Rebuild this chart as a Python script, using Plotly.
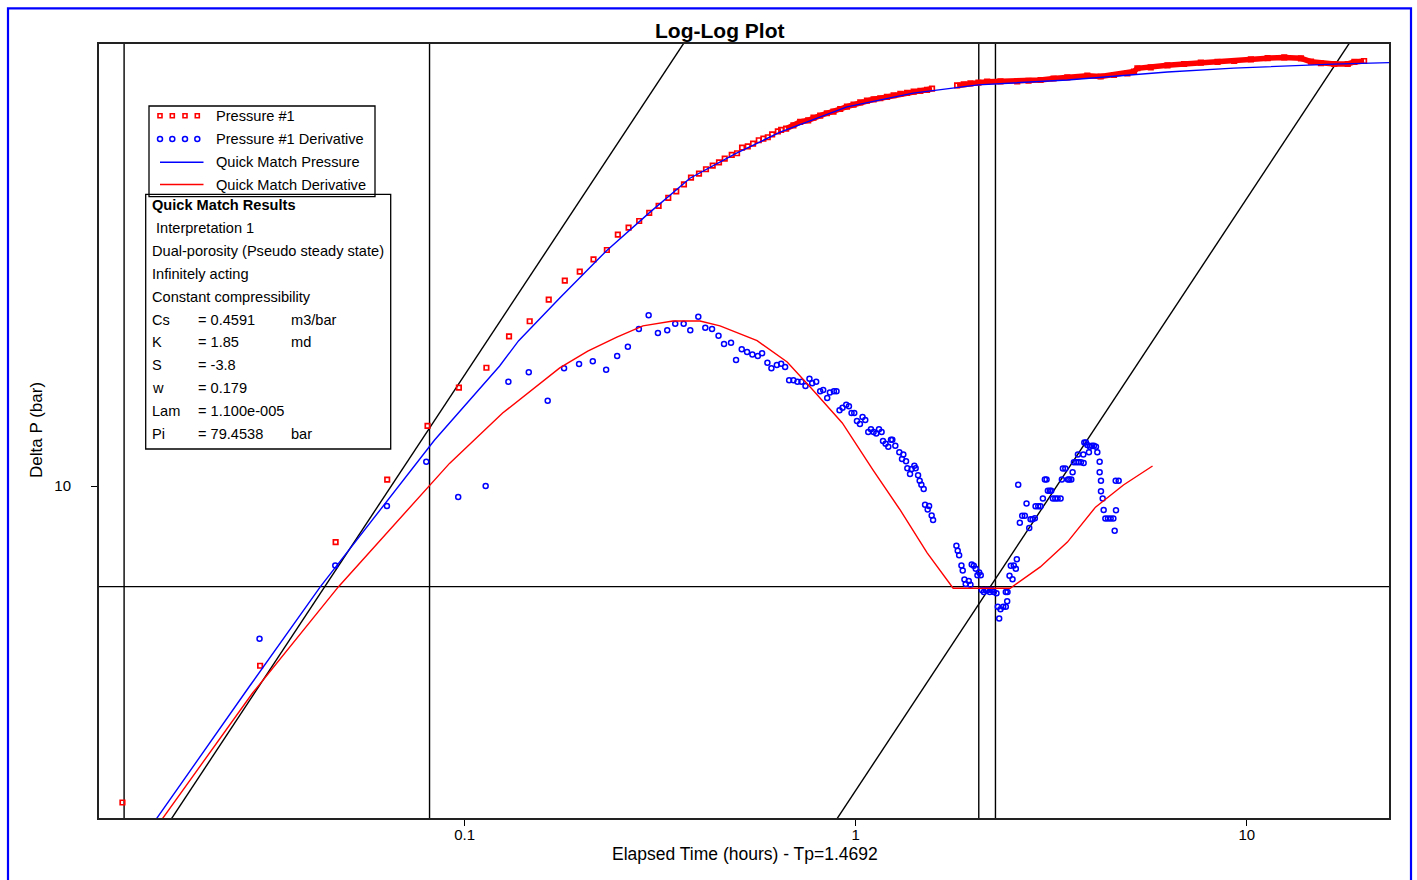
import plotly.graph_objects as go

# ---------------- data ----------------
# Pressure #1 (hours, bar)
pressure_t = [0.01334, 0.0300, 0.0468, 0.0634, 0.0804, 0.0967, 0.1137, 0.1299, 0.1467, 0.1641,
              0.1804, 0.197, 0.2136, 0.2311, 0.2465, 0.2626, 0.2795, 0.2965, 0.3134, 0.3317,
              0.3477, 0.3638, 0.3792, 0.3975, 0.4142, 0.4309, 0.4472, 0.4625, 0.482, 0.4973,
              0.5122, 0.5297, 0.5465, 0.5652, 0.5807, 0.596, 0.6114, 0.6323, 0.6447,
              0.6639, 0.6931, 0.7211, 0.7559, 0.7799, 0.8113, 0.844, 0.8775, 0.9129, 0.9497,
              0.9874, 1.0272, 1.0685, 1.111, 1.1558, 1.2023, 1.2501, 1.3005, 1.3528, 1.4066,
              1.4633, 1.5222, 1.5676,
              1.8167, 1.8889, 1.965, 2.06, 2.1683, 2.3453, 2.588, 2.7664, 2.9693, 3.206,
              3.4755, 3.9106, 4.2298, 4.575, 4.9508, 5.1476, 5.2516, 5.6803, 6.2679, 6.9129,
              7.6283, 8.4173, 9.2834, 10.244, 11.304, 12.467, 13.757, 14.593, 15.479, 16.742,
              18.117, 18.838, 19.95]
pressure_dp = [2.92, 4.97, 8.04, 10.25, 12.63, 14.66, 15.84, 17.9, 18.98, 20.64,
               22.22, 23.02, 24.15, 25.04, 26.58, 27.31, 28.03, 28.92, 29.72, 30.66,
               31.46, 32.33, 33.18, 33.7, 34.28, 34.76, 35.22, 35.72, 36.24, 36.48,
               37.28, 37.48, 37.86, 38.37, 38.61, 38.82, 39.27, 39.73, 39.94,
               40.14, 40.67, 41.2, 41.47, 41.9, 42.22, 42.62, 42.88, 43.33, 43.73,
               44.07, 44.48, 44.76, 45.0, 45.18, 45.41, 45.71, 45.94, 46.12, 46.35,
               46.48, 46.66, 46.9,
               47.49, 47.71, 47.86, 48.01, 48.19, 48.26, 48.26, 48.36, 48.51, 48.79,
               49.02, 49.33, 49.17, 49.46, 49.79, 50.14, 50.77, 50.93, 51.36, 51.62,
               51.89, 52.03, 52.23, 52.54, 52.8, 52.95, 52.78, 52.09, 51.77, 51.62,
               51.62, 52.03, 52.23]

# Pressure #1 Derivative
deriv_t = [0.0299, 0.0467, 0.0633, 0.0798, 0.0963, 0.1132, 0.1294, 0.1459, 0.1631, 0.1796,
           0.1962, 0.2127, 0.2301, 0.2455, 0.2615, 0.279, 0.2955, 0.3121, 0.3297, 0.3456,
           0.3632, 0.3776, 0.3959, 0.4125, 0.4292, 0.4459, 0.4606, 0.48, 0.4944, 0.5112,
           0.5275, 0.5443, 0.5619, 0.5763, 0.5946, 0.6088, 0.6285, 0.6447, 0.66, 0.6758,
           0.6931, 0.7097, 0.7266, 0.744, 0.7617, 0.774, 0.7924, 0.8113, 0.8259, 0.8456,
           0.8591, 0.8796, 0.8932, 0.9092, 0.9254, 0.9458, 0.961, 0.9758, 0.9915, 1.0074,
           1.0252, 1.0411, 1.0579, 1.0767, 1.0939, 1.111, 1.1288, 1.147, 1.1647, 1.1743,
           1.1925, 1.2116, 1.2309, 1.2406, 1.2627,
           1.2929, 1.3134, 1.3237, 1.3449, 1.3553, 1.377, 1.39, 1.4124, 1.4234, 1.4437,
           1.4574, 1.472, 1.4922, 1.5044, 1.5404, 1.5278, 1.5639, 1.577,
           1.8093, 1.8233, 1.8385, 1.8636, 1.8779, 1.8968, 1.9114, 1.9456, 1.965, 1.98,
           2.0039, 2.0275, 2.048, 2.0686, 2.088, 2.1002, 2.1255, 2.1507, 2.1762, 2.202,
           2.2278, 2.2547, 2.2906, 2.3084, 2.3275, 2.3453, 2.383, 2.42, 2.4398, 2.42,
           2.4443, 2.4733, 2.4924, 2.5175, 2.5367, 2.5669, 2.5821, 2.6036, 2.6281, 2.6653,
           2.7068, 2.734, 2.778, 2.7993, 2.8326, 2.8713, 2.8831, 2.9295, 2.9693, 3.0099,
           3.0457, 3.0763, 3.1001, 3.1368, 3.1623, 3.1927, 3.2382, 3.2826, 3.341, 3.3663,
           3.3863, 3.4348, 3.4881, 3.517, 3.5587, 3.5861, 3.6135, 3.665, 3.70, 3.715,
           3.7657, 3.8196, 3.8265, 3.842, 3.8788, 3.9106, 3.9477, 3.9713, 4.0179, 4.0659,
           4.1144, 4.148, 4.2052, 4.2052, 4.2376, 4.2376, 4.2803, 4.3055, 4.3487, 4.4162,
           4.4868, 4.5587, 4.5938, 4.6294, 4.6211, 4.7034]
deriv_dp = [5.52, 7.34, 9.25, 10.99, 9.58, 10.0, 15.0, 15.56, 13.93, 15.81,
            16.07, 16.24, 15.72, 16.58, 17.19, 18.42, 19.42, 18.13, 18.32, 18.8,
            18.8, 18.32, 19.32, 18.51, 18.42, 17.94, 17.37, 17.46, 16.32, 17.02,
            16.84, 16.67, 16.58, 16.76, 16.15, 15.81, 16.01, 16.09, 15.89, 15.09,
            15.09, 15.0, 15.0, 14.76, 15.18, 14.91, 15.0, 14.45, 14.53, 14.08,
            14.38, 14.45, 14.45, 13.43, 13.56, 13.72, 13.64, 13.28, 13.28, 12.88,
            12.73, 13.08, 12.93, 12.34, 12.47, 12.34, 12.27, 12.47, 12.34, 11.91,
            11.79, 11.65, 11.97, 11.97, 11.7,
            11.4, 11.11, 11.3, 11.01, 10.71, 10.48, 10.68, 10.82, 10.71, 10.43,
            10.21, 10.05, 9.88, 9.3, 9.25, 9.13, 8.92, 8.76,
            7.93, 7.77, 7.64, 7.34, 7.2, 6.95, 6.83, 6.91, 6.81, 7.37,
            7.33, 7.25, 7.07, 7.14, 7.07, 6.67, 6.62, 6.67, 6.67, 6.62,
            6.67, 6.62, 6.59, 6.25, 5.97, 6.19, 6.25, 6.25, 6.39, 6.62,
            6.62, 7.05, 7.33, 6.96, 7.34, 7.25, 7.52, 10.05, 8.67, 8.91,
            8.91, 9.34, 8.49, 8.79, 8.79, 8.82, 9.24, 9.24, 9.24, 9.53,
            10.26, 10.26, 9.82, 9.82, 9.82, 9.53, 9.53, 9.53, 9.53, 10.26,
            10.70, 10.70, 10.26, 10.26, 10.26, 10.55, 10.97, 10.97, 11.3, 10.97,
            10.97, 11.3, 10.94, 11.84, 11.84, 11.73, 11.4, 11.65, 11.7, 11.7,
            11.65, 11.4, 10.99, 10.55, 10.21, 9.80, 9.53, 9.11, 8.81, 8.81,
            8.81, 8.81, 8.4, 9.10, 10.21, 10.21]

# Quick Match Pressure (model)
match_p_t = [0.01566, 0.02813, 0.04279, 0.05084, 0.0838, 0.1229, 0.1375, 0.1751, 0.231, 0.296,
             0.3769, 0.4915, 0.6409, 0.950, 1.4026, 2.057, 3.477, 6.27, 9.26, 16.7, 23.4]
match_p_dp = [2.64, 4.58, 6.76, 7.82, 11.96, 15.95, 17.6, 20.78, 25.0, 28.9,
              33.1, 36.4, 39.6, 43.7, 46.1, 47.6, 48.5, 50.05, 50.8, 51.6, 51.9]

# Quick Match Derivative (model)
match_d_t = [0.01637, 0.0287, 0.0476, 0.0915, 0.1251, 0.1751, 0.2065, 0.2451, 0.2857, 0.3409,
             0.3998, 0.4498, 0.5596, 0.668, 0.765, 0.924, 1.1078, 1.299, 1.523, 1.775,
             2.484, 2.965, 3.478, 4.103, 4.838, 5.741]
match_d_dp = [2.665, 4.47, 6.76, 10.92, 13.28, 15.83, 16.9, 17.85, 18.64, 19.0,
              19.0, 18.64, 17.6, 16.2, 14.7, 12.78, 10.64, 9.11, 7.71, 6.72,
              6.72, 7.30, 8.04, 9.21, 10.04, 10.81]

# analysis lines
vline_t = [0.01347, 0.08135, 2.064, 2.277]
hline_dp = [6.76]
unit_slope_coeff = [154.0, 3.06]   # dp = c * t

x_tick_vals = [0.1, 1, 10]
x_tick_text = ["0.1", "1", "10"]
y_tick_vals = [10]
y_tick_text = ["10"]

legend_names = ["Pressure #1", "Pressure #1 Derivative", "Quick Match Pressure", "Quick Match Derivative"]
results_title = "Quick Match Results"
results_notes = [" Interpretation 1", "Dual-porosity (Pseudo steady state)", "Infinitely acting",
                 "Constant compressibility"]
results_params = [("Cs", "= 0.4591", "m3/bar"), ("K", "= 1.85", "md"), ("S", "= -3.8", ""),
                  ("w", "= 0.179", ""), ("Lam", "= 1.100e-005", ""), ("Pi", "= 79.4538", "bar")]

# ---------------- layout geometry ----------------
W, H = 1417, 880
ML, MR, MT, MB = 99, 28, 44, 62
PW, PH = W - ML - MR, H - MT - MB
X_RANGE_LOG = [-1.9348, 1.3636]
Y_RANGE_LOG = [0.4392, 1.7466]
FONT = "Liberation Sans, Arial, sans-serif"
RED, BLUE = "#FF0000", "#0000FF"


def px(x):
    return (x - ML) / PW


def py(y):
    return (H - MB - y) / PH


fig = go.Figure()

t_lo, t_hi = 10 ** X_RANGE_LOG[0], 10 ** X_RANGE_LOG[1]
p_lo, p_hi = 10 ** Y_RANGE_LOG[0], 10 ** Y_RANGE_LOG[1]

for t in vline_t:
    fig.add_trace(go.Scatter(x=[t, t], y=[p_lo, p_hi], mode="lines",
                             line=dict(color="black", width=1.4), hoverinfo="skip", showlegend=False))
for p in hline_dp:
    fig.add_trace(go.Scatter(x=[t_lo, t_hi], y=[p, p], mode="lines",
                             line=dict(color="black", width=1.4), hoverinfo="skip", showlegend=False))
for c in unit_slope_coeff:
    fig.add_trace(go.Scatter(x=[t_lo, t_hi], y=[c * t_lo, c * t_hi], mode="lines",
                             line=dict(color="black", width=1.4), hoverinfo="skip", showlegend=False))

# dense part of the pressure record drawn as a band through the same samples
band_t, band_dp, prev = [], [], None
for t, p in zip(pressure_t, pressure_dp):
    if t < 0.66:
        continue
    if prev is not None and t / prev > 1.13:
        band_t.append(None)
        band_dp.append(None)
    band_t.append(t)
    band_dp.append(p)
    prev = t

fig.add_trace(go.Scatter(x=band_t, y=band_dp, mode="lines", line=dict(color=RED, width=5.5),
                         showlegend=False, hoverinfo="skip"))
fig.add_trace(go.Scatter(x=pressure_t, y=pressure_dp, mode="markers", name=legend_names[0],
                         marker=dict(symbol="square-open", size=4.5, color=RED, line=dict(width=1.7, color=RED)),
                         showlegend=False))
fig.add_trace(go.Scatter(x=deriv_t, y=deriv_dp, mode="markers", name=legend_names[1],
                         marker=dict(symbol="circle-open", size=5, color=BLUE, line=dict(width=1.5, color=BLUE)),
                         showlegend=False))
fig.add_trace(go.Scatter(x=match_p_t, y=match_p_dp, mode="lines", name=legend_names[2],
                         line=dict(color=BLUE, width=1.4), showlegend=False))
fig.add_trace(go.Scatter(x=match_d_t, y=match_d_dp, mode="lines", name=legend_names[3],
                         line=dict(color=RED, width=1.4), showlegend=False))

# ---- hand-drawn legend (glyphs on an overlay axis in paper units) ----
glyph_x = [px(160), px(172.3), px(185), px(197.3)]
leg_rows = [115.7, 139.0, 162.3, 184.5]
fig.add_trace(go.Scatter(x=glyph_x, y=[py(leg_rows[0])] * 4, xaxis="x2", yaxis="y2", mode="markers",
                         marker=dict(symbol="square-open", size=4, color=RED, line=dict(width=1.6, color=RED)),
                         showlegend=False, hoverinfo="skip", cliponaxis=False))
fig.add_trace(go.Scatter(x=glyph_x, y=[py(leg_rows[1])] * 4, xaxis="x2", yaxis="y2", mode="markers",
                         marker=dict(symbol="circle-open", size=5, color=BLUE, line=dict(width=1.5, color=BLUE)),
                         showlegend=False, hoverinfo="skip", cliponaxis=False))
fig.add_trace(go.Scatter(x=[px(160), px(203.5)], y=[py(leg_rows[2])] * 2, xaxis="x2", yaxis="y2", mode="lines",
                         line=dict(color=BLUE, width=1.4), showlegend=False, hoverinfo="skip"))
fig.add_trace(go.Scatter(x=[px(160), px(203.5)], y=[py(leg_rows[3])] * 2, xaxis="x2", yaxis="y2", mode="lines",
                         line=dict(color=RED, width=1.4), showlegend=False, hoverinfo="skip"))

annotations = []


def txt(x, y, s, size=14.6, bold=False, anchor="left"):
    annotations.append(dict(x=px(x), y=py(y), xref="paper", yref="paper", text=("<b>%s</b>" % s) if bold else s,
                            showarrow=False, xanchor=anchor, yanchor="middle",
                            font=dict(family=FONT, size=size, color="black")))


for name, yrow in zip(legend_names, leg_rows):
    txt(214, yrow, name)

row_y = [205.0 + 22.9 * i for i in range(11)]
txt(149.5, row_y[0], results_title, bold=True)
for i, note in enumerate(results_notes):
    txt(149.5, row_y[1 + i], note.replace(" ", "&nbsp;", 1) if note.startswith(" ") else note)
for i, (k, v, u) in enumerate(results_params):
    r = row_y[5 + i]
    txt(149.5, r, k)
    txt(196, r, v)
    if u:
        txt(289, r, u)

annotations.append(dict(x=px(719), y=py(30.5), xref="paper", yref="paper", text="<b>Log-Log Plot</b>",
                        showarrow=False, xanchor="center", yanchor="middle",
                        font=dict(family=FONT, size=21, color="black")))
annotations.append(dict(x=px(744.5), y=py(854), xref="paper", yref="paper",
                        text="Elapsed Time (hours) - Tp=1.4692", showarrow=False,
                        xanchor="center", yanchor="middle", font=dict(family=FONT, size=17.5, color="black")))
annotations.append(dict(x=px(37), y=py(430), xref="paper", yref="paper", text="Delta P (bar)",
                        showarrow=False, textangle=-90, xanchor="center", yanchor="middle",
                        font=dict(family=FONT, size=17, color="black")))

shapes = [
    dict(type="rect", xref="paper", yref="paper", x0=px(145.7), x1=px(390.7), y0=py(449), y1=py(194.3),
         line=dict(color="black", width=1.3)),
    dict(type="rect", xref="paper", yref="paper", x0=px(149), x1=px(375), y0=py(196.7), y1=py(106),
         line=dict(color="black", width=1.3)),
    dict(type="rect", xref="paper", yref="paper", x0=px(8), x1=px(1411), y0=py(900), y1=py(8.3),
         line=dict(color=BLUE, width=2.2)),
]

fig.update_layout(
    width=W, height=H, margin=dict(l=ML, r=MR, t=MT, b=MB, pad=0),
    paper_bgcolor="white", plot_bgcolor="white", showlegend=False,
    font=dict(family=FONT, size=15, color="black"),
    xaxis=dict(type="log", range=X_RANGE_LOG, tickvals=x_tick_vals, ticktext=x_tick_text,
               ticks="outside", ticklen=6, tickwidth=1, tickcolor="black", showgrid=False,
               zeroline=False, showline=True, linecolor="#222222", linewidth=2, mirror=True,
               ticklabelstandoff=-4, tickfont=dict(family=FONT, size=15, color="black")),
    yaxis=dict(type="log", range=Y_RANGE_LOG, tickvals=y_tick_vals, ticktext=y_tick_text,
               ticks="outside", ticklen=6, tickwidth=1, tickcolor="black", showgrid=False,
               zeroline=False, showline=True, linecolor="#222222", linewidth=2, mirror=True,
               ticklabelstandoff=17, tickfont=dict(family=FONT, size=15, color="black")),
    xaxis2=dict(overlaying="x", anchor="y2", range=[0, 1], visible=False, fixedrange=True),
    yaxis2=dict(overlaying="y", anchor="x2", range=[0, 1], visible=False, fixedrange=True),
    annotations=annotations, shapes=shapes,
)

fig.write_html("out.html")
